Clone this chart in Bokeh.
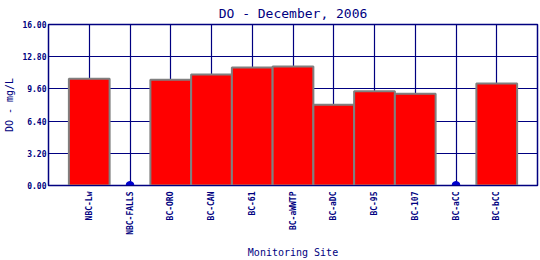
import math
from bokeh.plotting import figure
from bokeh.models import Range1d, FixedTicker, PrintfTickFormatter
from bokeh.embed import file_html
from bokeh.resources import INLINE

sites = ["NBC-Lw", "NBC-FALLS", "BC-ORO", "BC-CAN", "BC-61", "BC-aWWTP",
         "BC-aDC", "BC-95", "BC-107", "BC-aCC", "BC-bCC"]
do_values = [10.62, 0.0, 10.52, 11.02, 11.72, 11.82, 8.03, 9.36, 9.13, 0.0, 10.13]
y_ticks = [0.0, 3.2, 6.4, 9.6, 12.8, 16.0]

NAVY = "#000080"
FONT = "DejaVu Sans Mono"

xs = list(range(1, len(sites) + 1))
bar_x = [x for x, v in zip(xs, do_values) if v > 0]
bar_v = [v for v in do_values if v > 0]
dot_x = [x for x, v in zip(xs, do_values) if v <= 0]
dot_v = [v for v in do_values if v <= 0]

p = figure(width=540, height=260, output_backend="svg", toolbar_location=None,
           x_range=Range1d(0, len(sites) + 1), y_range=Range1d(0, 16),
           min_border_left=48, min_border_right=3, min_border_top=24, min_border_bottom=75)

p.title.text = "DO - December, 2006"
p.title.align = "center"
p.title.vertical_align = "top"
p.title.text_font = FONT
p.title.text_font_size = "13px"
p.title.text_font_style = "normal"
p.title.text_color = NAVY
p.title.standoff = 4

p.vbar(x=bar_x, top=bar_v, bottom=0, width=1.0, fill_color="#ff0000",
       line_color="#808080", line_width=2)
p.scatter(x=dot_x, y=dot_v, size=8, color="#0000cc", marker="circle")

p.xaxis.ticker = FixedTicker(ticks=xs)
p.xaxis.major_label_overrides = {x: s for x, s in zip(xs, sites)}
p.xaxis.major_label_orientation = math.pi / 2
p.yaxis.ticker = FixedTicker(ticks=y_ticks)
p.yaxis.formatter = PrintfTickFormatter(format="%.2f")

for ax in (p.xaxis[0], p.yaxis[0]):
    ax.major_tick_line_color = None
    ax.major_tick_out = 0
    ax.major_tick_in = 0
    ax.minor_tick_line_color = None
    ax.minor_tick_out = 0
    ax.minor_tick_in = 0
    ax.axis_line_color = NAVY
    ax.major_label_text_font = FONT
    ax.major_label_text_font_size = "8px"
    ax.major_label_text_font_style = "bold"
    ax.major_label_text_color = NAVY
    ax.axis_label_text_font = FONT
    ax.axis_label_text_font_size = "10px"
    ax.axis_label_text_font_style = "normal"
    ax.axis_label_text_color = NAVY

p.xaxis.axis_label = "Monitoring Site"
p.yaxis.axis_label = "DO - mg/L"
p.xaxis.major_label_standoff = 6
p.yaxis.major_label_standoff = 2
p.xaxis.axis_label_standoff = 9
p.yaxis.axis_label_standoff = 4

p.xgrid.ticker = FixedTicker(ticks=xs)
p.ygrid.ticker = FixedTicker(ticks=y_ticks)
p.grid.grid_line_color = NAVY
p.grid.grid_line_width = 1.2
p.grid.grid_line_alpha = 1.0
p.grid.level = "underlay"
p.outline_line_color = NAVY
p.outline_line_width = 1.5
p.background_fill_color = "white"
p.border_fill_color = "white"

open("out.html", "w").write(file_html(p, INLINE))
